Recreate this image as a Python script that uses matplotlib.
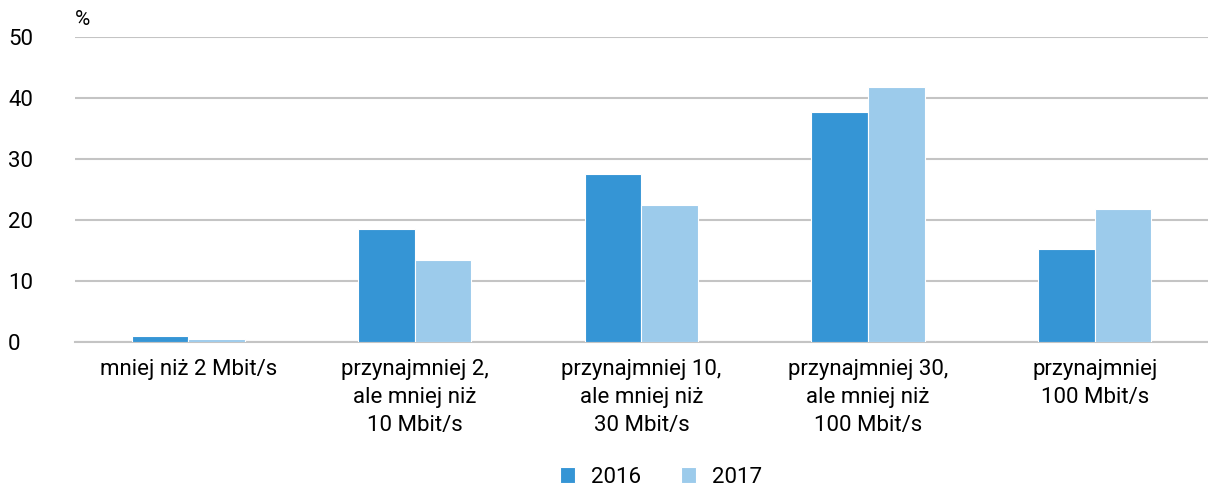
import matplotlib.pyplot as plt
import numpy as np

plt.rcParams['font.family'] = ['Roboto', 'DejaVu Sans']

categories = ['mniej niż 2 Mbit/s',
              'przynajmniej 2,\nale mniej niż\n10 Mbit/s',
              'przynajmniej 10,\nale mniej niż\n30 Mbit/s',
              'przynajmniej 30,\nale mniej niż\n100 Mbit/s',
              'przynajmniej\n100 Mbit/s']
values_2016 = [1.0, 18.6, 27.6, 37.8, 15.3]
values_2017 = [0.6, 13.5, 22.5, 41.8, 21.9]
years = ['2016', '2017']

fig = plt.figure(figsize=(12.08, 4.87), dpi=100)
ax = fig.add_axes([0.062, 0.297, 0.938, 0.627])

x = np.arange(len(categories))
w = 0.25
ax.bar(x - w / 2, values_2016, w, color='#3595d5', edgecolor='white', linewidth=0.8, label=years[0], zorder=3)
ax.bar(x + w / 2, values_2017, w, color='#9ccbeb', edgecolor='white', linewidth=0.8, label=years[1], zorder=3)

ax.set_xlim(-0.5, len(categories) - 0.5)
ax.set_ylim(0, 50)
ax.set_yticks(range(0, 51, 10))
ax.yaxis.grid(True, color='#c4c4c4', linewidth=1.5, zorder=0)
ax.set_axisbelow(True)
for s in ['top', 'right', 'left']:
    ax.spines[s].set_visible(False)
ax.spines['bottom'].set_color('#c4c4c4')
ax.spines['bottom'].set_linewidth(1.5)
ax.tick_params(axis='both', length=0, labelsize=16)
ax.tick_params(axis='x', pad=12)
ax.tick_params(axis='y', pad=48)
for lbl in ax.get_yticklabels():
    lbl.set_horizontalalignment('left')
ax.set_xticks(x)
ax.set_xticklabels(categories, linespacing=1.45)

ax.text(0.0, 1.025, '%', transform=ax.transAxes, fontsize=15, ha='left', va='bottom')

fig.legend(loc='center', bbox_to_anchor=(0.547, 0.02), ncol=2, frameon=False,
           fontsize=16, handlelength=0.7, handleheight=0.7, columnspacing=1.8, handletextpad=0.7)

fig.savefig('out.png', dpi=100)
